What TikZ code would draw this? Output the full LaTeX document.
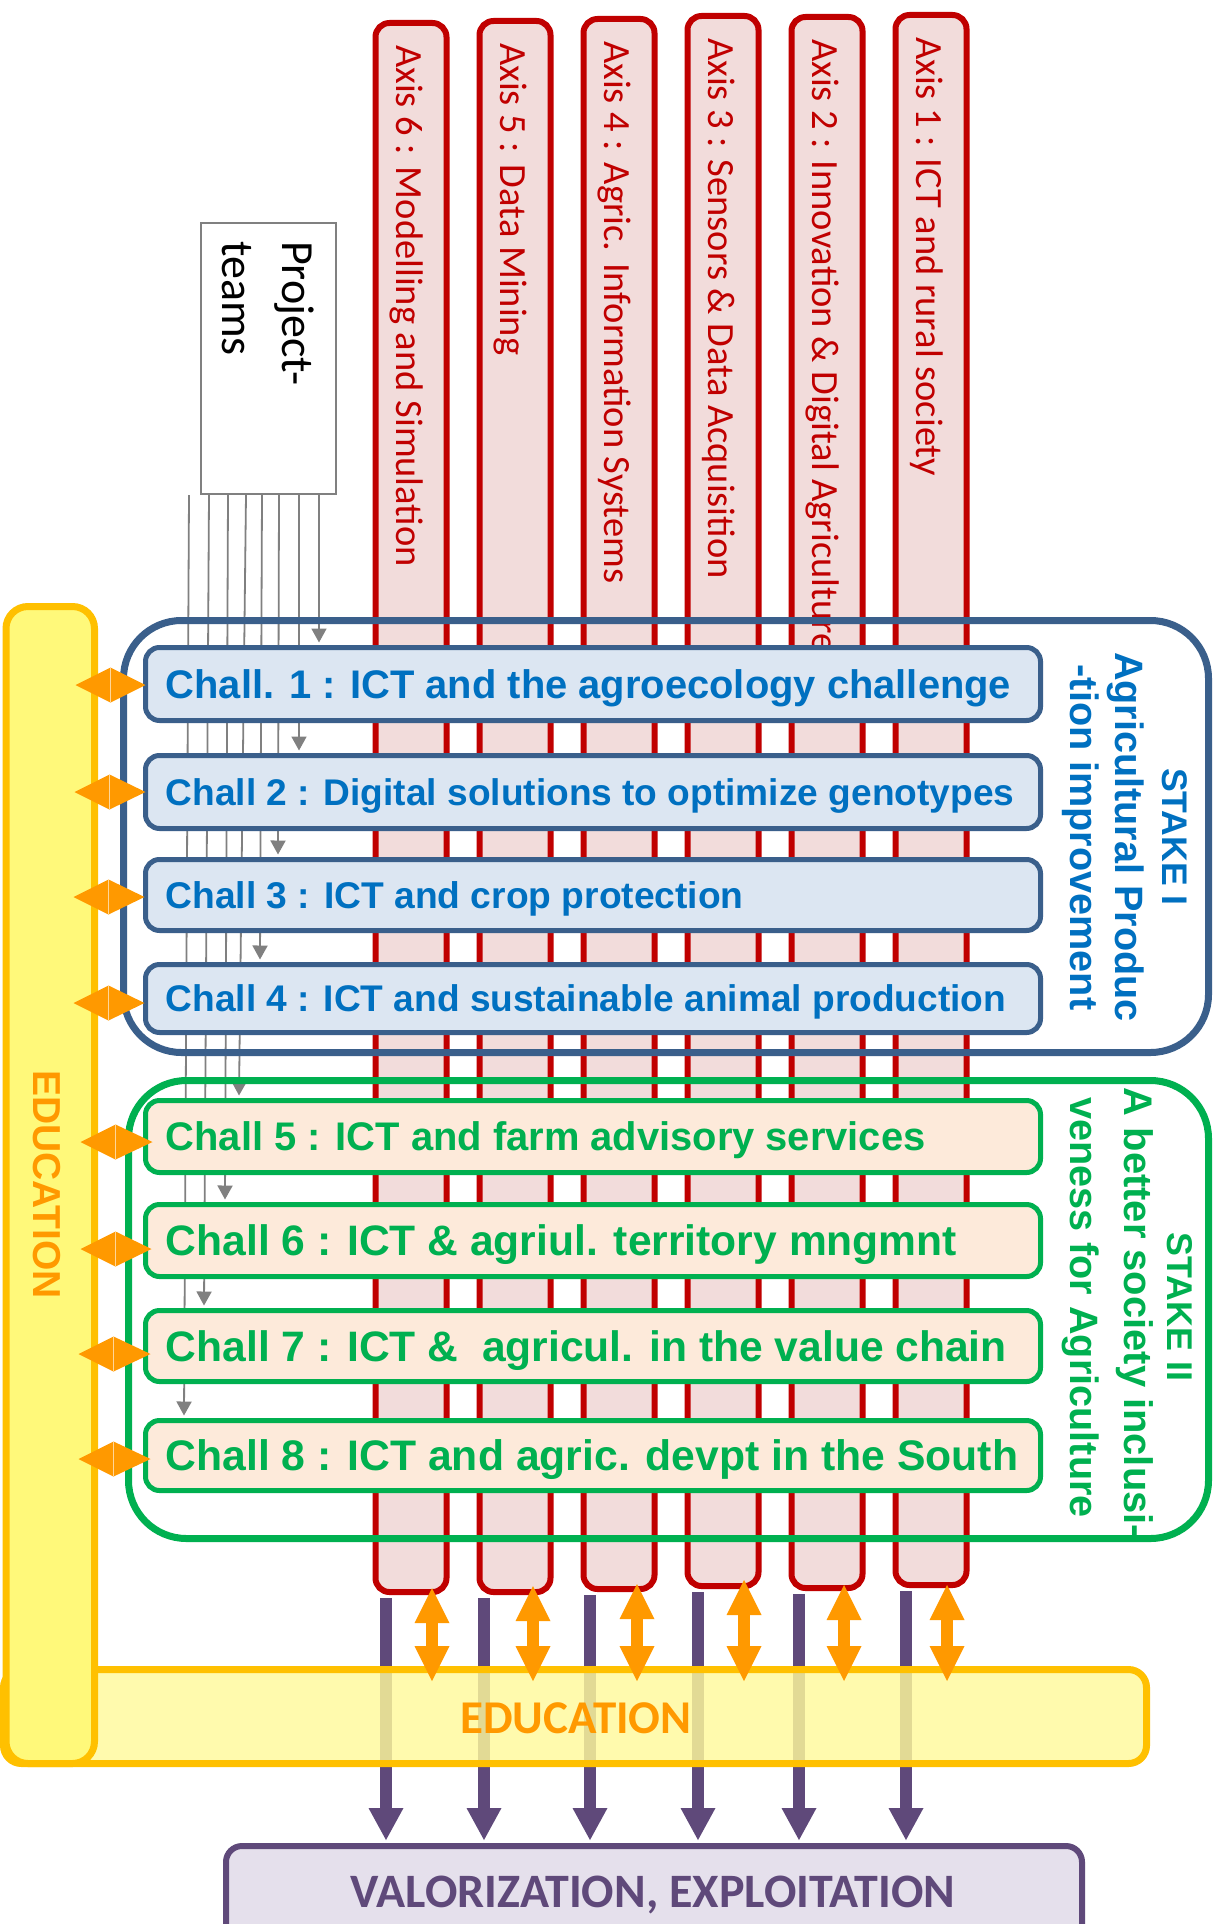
\documentclass[tikz,border=0pt]{standalone}
\usepackage{fontspec}
\newfontfamily\carlito{Carlito}
\newfontfamily\libsans{Liberation Sans}
\usetikzlibrary{arrows.meta}
\pgfdeclarelayer{bg}
\pgfsetlayers{bg,main}
\definecolor{axred}{HTML}{C00000}
\definecolor{axfill}{HTML}{F2DCDB}
\definecolor{sblue}{HTML}{3A5F8B}
\definecolor{cblue}{HTML}{DCE6F2}
\definecolor{tblue}{HTML}{0070C0}
\definecolor{sgreen}{HTML}{00B050}
\definecolor{cpeach}{HTML}{FDEADA}
\definecolor{eduor}{HTML}{FFC000}
\definecolor{eduyel}{HTML}{FFF97A}
\definecolor{orng}{HTML}{FF9900}
\definecolor{purp}{HTML}{5F497A}
\definecolor{lpurp}{HTML}{E5E0EC}
\definecolor{gry}{HTML}{808080}
\begin{document}
\begin{tikzpicture}[x=1pt,y=-1pt,
  axisbox/.style={draw=axred,fill=axfill,line width=6pt,rounded corners=14pt,minimum width=71pt,inner sep=0pt},
  axistext/.style={rotate=-90,anchor=base west,inner sep=0pt,text=axred,font=\carlito\fontsize{38.5}{40}\selectfont},
  challA/.style={draw=sblue,fill=cblue,line width=5pt,rounded corners=14pt,minimum width=895pt,inner sep=0pt},
  challB/.style={draw=sgreen,fill=cpeach,line width=5pt,rounded corners=14pt,minimum width=895pt,inner sep=0pt},
  ctext/.style={anchor=base west,inner sep=0pt},
  staketext/.style={rotate=-90,anchor=base,inner sep=0pt},
  greyarrow/.style={draw=gry,line width=1.8pt,-{Triangle[width=15pt,length=14pt]}},
  purpline/.style={draw=purp,line width=12pt},
  orshaft/.style={draw=orng,line width=12pt},
  stakebox/.style={line width=7pt,rounded corners=58pt,inner sep=0pt}
]
\useasboundingbox (0,0) rectangle (1218,1924);
\begin{pgfonlayer}{bg}
\fill[white] (0,0) rectangle (1218,1924);
\end{pgfonlayer}
\clip (0,0) rectangle (1218,1924);

% ---------------- axes
\node[axisbox,minimum height=1569pt] (ax6) at (411,807.5) {};
\node[axisbox,minimum height=1571pt] (ax5) at (515,806.5) {};
\node[axisbox,minimum height=1570pt] (ax4) at (619,804) {};
\node[axisbox,minimum height=1570pt] (ax3) at (723,801) {};
\node[axisbox,minimum height=1571pt] (ax2) at (827,802.5) {};
\node[axisbox,minimum height=1570pt] (ax1) at (931,800) {};
\node[axistext] (ax6t) at (396,45) {Axis 6 : Modelling and Simulation};
\node[axistext] (ax5t) at (500,43) {Axis 5 : Data Mining};
\node[axistext] (ax4t) at (604,41) {Axis 4 : Agric. Information Systems};
\node[axistext] (ax3t) at (708,38) {Axis 3 : Sensors \& Data Acquisition};
\node[axistext] (ax2t) at (812,39) {Axis 2 : Innovation \& Digital Agriculture};
\node[axistext] (ax1t) at (916,37) {Axis 1 : ICT and rural society};

% ---------------- valorization
\node[draw=purp,fill=lpurp,line width=6pt,rounded corners=16pt,minimum width=856pt,minimum height=144pt,inner sep=0pt] (valor) at (654,1918) {};
\node[anchor=base,inner sep=0pt,text=purp,font=\carlito\bfseries\fontsize{48}{50}\selectfont] (valort) at (653,1907) {VALORIZATION, EXPLOITATION};

\foreach \n/\dx in {6/-25,5/-31,4/-29,3/-25,2/-28,1/-25}{
  \coordinate (pe\n) at ([xshift=\dx pt,yshift=3pt]ax\n.south |- valor.north);
  \draw[purpline] ([xshift=\dx pt,yshift=-3pt]ax\n.south) -- ([yshift=31pt]pe\n);
  \fill[purp] (pe\n) -- ++(-17.5,-32) -- ++(35,0) -- cycle;
}

% ---------------- education bars
\node[draw=eduor,fill=eduyel!75!white,fill opacity=0.82,line width=7pt,rounded corners=18pt,minimum width=1143pt,minimum height=94pt,inner sep=0pt] (eduh) at (575,1716.5) {};
\node[anchor=base west,inner sep=0pt,text=orng,font=\carlito\bfseries\fontsize{47}{50}\selectfont] (eduht) at (460,1733) {EDUCATION};
\node[draw=eduor,fill=eduyel,line width=7pt,rounded corners=22pt,minimum width=88.5pt,minimum height=1157pt,inner sep=0pt] (eduv) at (50.25,1185) {};
\node[rotate=-90,anchor=base west,inner sep=0pt,text=orng,font=\libsans\bfseries\fontsize{39}{42}\selectfont] (eduvt) at (33,1070) {EDUCATION};

\foreach \n/\dx/\up in {6/21/7,5/18/9,4/18/8,3/21/9,2/17/6,1/16/3}{
  \coordinate (oa\n) at ([xshift=\dx pt,yshift=\up pt]ax\n.south);
  \coordinate (ob\n) at ([xshift=\dx pt,yshift=-15pt]ax\n.south |- eduh.north);
  \draw[orshaft] ([yshift=-34pt]oa\n) -- ([yshift=34pt]ob\n);
  \fill[orng] (oa\n) -- ++(17.5,35) -- ++(-35,0) -- cycle;
  \fill[orng] (ob\n) -- ++(17.5,-35) -- ++(-35,0) -- cycle;
}

% ---------------- project teams
\node[draw=gry,line width=2pt,minimum width=135pt,minimum height=271pt,inner sep=0pt] (pt) at (268.5,358.5) {};
\node[rotate=-90,anchor=base west,inner sep=0pt,font=\carlito\fontsize{46}{50}\selectfont] (ptt1) at (282,241) {Project-};
\node[rotate=-90,anchor=base west,inner sep=0pt,font=\carlito\fontsize{46}{50}\selectfont] (ptt2) at (222,241) {teams};

% ---------------- stakes
\node[stakebox,draw=sblue,minimum width=1085pt,minimum height=432pt] (stakeI) at (666,836.5) {};
\node[stakebox,draw=sgreen,minimum width=1080pt,minimum height=458pt] (stakeII) at (668.5,1309.5) {};
\node[staketext,text=tblue,font=\libsans\bfseries\fontsize{35.6}{38}\selectfont] (s1a) at (1162,837) {STAKE I};
\node[staketext,text=tblue,font=\libsans\bfseries\fontsize{39.6}{42}\selectfont] (s1b) at (1115,837) {Agricultural Produc};
\node[staketext,text=tblue,font=\libsans\bfseries\fontsize{39.6}{42}\selectfont] (s1c) at (1070,837.5) {-tion improvement};
\node[staketext,text=sgreen,font=\libsans\bfseries\fontsize{35.8}{38}\selectfont] (s2a) at (1167,1307) {STAKE II};
\node[staketext,text=sgreen,font=\libsans\bfseries\fontsize{39.9}{42}\selectfont] (s2b) at (1124,1313) {A better society inclusi-};
\node[staketext,text=sgreen,font=\libsans\bfseries\fontsize{39.6}{42}\selectfont] (s2c) at (1070,1307.5) {veness for Agriculture};

% ---------------- challenges
\node[challA,minimum height=73pt] (c1) at (593,684) {};
\node[challA,minimum height=73pt] (c2) at (593,792) {};
\node[challA,minimum height=71pt] (c3) at (593,895) {};
\node[challA,minimum height=68pt] (c4) at (593,998.5) {};
\node[challB,minimum height=72pt] (c5) at (593,1136.5) {};
\node[challB,minimum height=72pt] (c6) at (593,1240.5) {};
\node[challB,minimum height=71pt] (c7) at (593,1346) {};
\node[challB,minimum height=70pt] (c8) at (593,1455.5) {};
\node[ctext,text=tblue,font=\libsans\bfseries\fontsize{39.9}{42}\selectfont] (c1t) at ([xshift=22.5pt,yshift=-14.3pt]c1.west) {Chall. 1 : ICT and the agroecology challenge};
\node[ctext,text=tblue,font=\libsans\bfseries\fontsize{37.1}{40}\selectfont] (c2t) at ([xshift=22.5pt,yshift=-13.3pt]c2.west) {Chall 2 : Digital solutions to optimize genotypes};
\node[ctext,text=tblue,font=\libsans\bfseries\fontsize{37.2}{40}\selectfont] (c3t) at ([xshift=22.5pt,yshift=-13.3pt]c3.west) {Chall 3 : ICT and crop protection};
\node[ctext,text=tblue,font=\libsans\bfseries\fontsize{37.1}{40}\selectfont] (c4t) at ([xshift=22.5pt,yshift=-13.3pt]c4.west) {Chall 4 : ICT and sustainable animal production};
\node[ctext,text=sgreen,font=\libsans\bfseries\fontsize{39.9}{42}\selectfont] (c5t) at ([xshift=22.5pt,yshift=-14.3pt]c5.west) {Chall 5 : ICT and farm advisory services};
\node[ctext,text=sgreen,font=\libsans\bfseries\fontsize{42.6}{45}\selectfont] (c6t) at ([xshift=22.5pt,yshift=-15.25pt]c6.west) {Chall 6 : ICT \& agriul. territory mngmnt};
\node[ctext,text=sgreen,font=\libsans\bfseries\fontsize{42.6}{45}\selectfont] (c7t) at ([xshift=22.5pt,yshift=-15.25pt]c7.west) {Chall 7 : ICT \& \ agricul. in the value chain};
\node[ctext,text=sgreen,font=\libsans\bfseries\fontsize{42.7}{45}\selectfont] (c8t) at ([xshift=22.5pt,yshift=-15.3pt]c8.west) {Chall 8 : ICT and agric. devpt in the South};

% ---------------- project-team lines (behind the challenge boxes)
\begin{pgfonlayer}{bg}
\foreach \n/\xt/\xb in {1/319/319,2/299/299,3/279/278,4/262/260,5/246/239,6/228/225,7/209/204,8/189/184}{
  \coordinate (gt\n) at (\xt,0);
  \coordinate (gb\n) at (\xb,0);
  \draw[greyarrow] (gt\n |- pt.south) -- ([yshift=2.5pt]gb\n |- c\n.north);
}
\end{pgfonlayer}

% ---------------- education <-> challenge diamonds
\foreach \n/\xa/\xb/\xc/\yo in {1/-67.5/-32.5/2.5/-1,2/-68.5/-33.5/2.5/0,3/-69.5/-34.5/1.5/-2,4/-69.5/-34.5/1.5/-4.5,5/-62.5/-27.5/9.5/-5.5,6/-62.5/-27.5/8.5/-8.5,7/-64.5/-29.5/7.5/-8,8/-64.5/-29.5/7.5/-3.5}{
  \coordinate (dl\n) at ([xshift=\xa pt,yshift=\yo pt]c\n.west);
  \coordinate (ds\n) at ([xshift=\xb pt,yshift=\yo pt]c\n.west);
  \coordinate (dr\n) at ([xshift=\xc pt,yshift=\yo pt]c\n.west);
  \fill[orng] (dl\n) -- ([yshift=17.5pt]ds\n) -- (dr\n) -- ([yshift=-17.5pt]ds\n) -- cycle;
  \draw[white,line width=0.8pt,opacity=0.6] ([yshift=17pt]ds\n) -- ([yshift=-17pt]ds\n);
}
\end{tikzpicture}
\end{document}
